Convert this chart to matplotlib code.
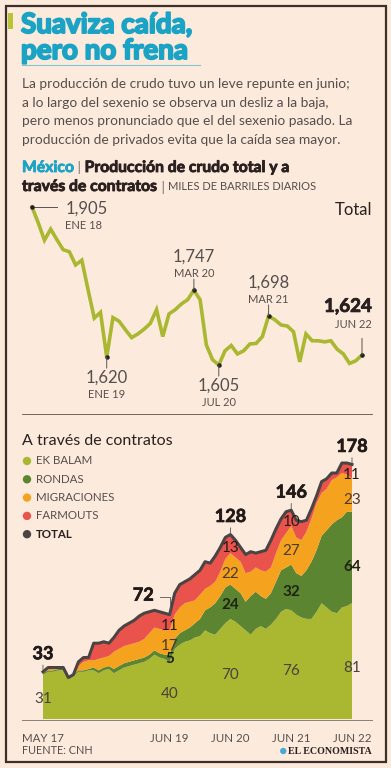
import numpy as np
import matplotlib.pyplot as plt
import matplotlib.patheffects as pe
from matplotlib.lines import Line2D
from matplotlib.patches import Rectangle, Ellipse

W, H = 391, 768

# Produccion total nacional, ene 2018 - jun 2022 (miles de barriles diarios)
total = [1905, 1875, 1842, 1863, 1843, 1824, 1820, 1795, 1804, 1748, 1694, 1705,
         1620, 1695, 1688, 1672, 1657, 1664, 1673, 1684, 1710, 1659, 1702, 1710,
         1721, 1729, 1747, 1729, 1643, 1615, 1605, 1632, 1642, 1626, 1632, 1645,
         1646, 1659, 1698, 1691, 1681, 1679, 1668, 1611, 1664, 1651, 1651, 1649,
         1651, 1635, 1626, 1608, 1613, 1624]
total_marcas = [0, 12, 26, 30, 38, 53]
total_fechas = ['ENE 18', 'ENE 19', 'MAR 20', 'JUL 20', 'MAR 21', 'JUN 22']

# Produccion a traves de contratos, may 2017 - jun 2022
ek_balam = [31, 33, 33, 34, 34, 28, 30, 33, 33, 34, 34, 32, 34, 35, 32, 34, 36, 37, 38, 39,
            40, 42, 45, 43, 42, 40, 49, 52, 54, 55, 57, 58, 62, 60, 59, 63, 67, 70, 68, 65,
            62, 59, 63, 65, 63, 66, 70, 75, 77, 76, 73, 71, 70, 70, 75, 81, 78, 75, 74, 78,
            79, 81]
rondas = [1, 1, 1, 1, 1, 1, 1, 1, 1, 1, 2, 2, 2, 2, 3, 3, 3, 3, 3, 3,
          3, 3, 3, 3, 3, 5, 7, 8, 8, 9, 10, 12, 14, 18, 22, 23, 25, 24, 23, 23,
          20, 27, 26, 21, 21, 22, 26, 29, 29, 32, 29, 29, 34, 40, 43, 47, 54, 61, 65, 63,
          66, 64]
migraciones = [0, 1, 1, 0, 0, 0, 0, 3, 6, 6, 5, 8, 7, 7, 12, 12, 12, 12, 12, 12,
               13, 15, 16, 17, 17, 17, 17, 18, 19, 18, 16, 17, 15, 15, 15, 17, 20, 22, 22, 22,
               20, 17, 17, 18, 19, 18, 20, 21, 24, 27, 25, 25, 27, 30, 33, 30, 29, 31, 30, 31,
               26, 23]
farmouts = [1, 1, 1, 1, 1, 0, 0, 3, 3, 2, 12, 11, 11, 9, 10, 13, 14, 15, 16, 18,
            18, 15, 12, 12, 12, 11, 15, 16, 15, 16, 18, 17, 19, 16, 18, 17, 15, 13, 12, 10,
            13, 14, 10, 13, 15, 19, 17, 15, 15, 11, 12, 13, 8, 7, 5, 8, 7, 5, 3, 7,
            8, 10]

hitos = [0, 25, 37, 49, 61]
hitos_fechas = ['MAY 17', 'JUN 19', 'JUN 20', 'JUN 21', 'JUN 22']
lab_total = [33, 72, 128, 146, 178]
lab_ek = [31, 40, 70, 76, 81]
lab_rondas = [None, 5, 24, 32, 64]
lab_migr = [None, 17, 22, 27, 23]
lab_farm = [None, 11, 13, 10, 11]

series_nombres = ['EK BALAM', 'RONDAS', 'MIGRACIONES', 'FARMOUTS', 'TOTAL']

BG = '#fcebdc'
OLIVA = '#a9b830'
VERDE = '#5b8530'
NARANJA = '#f5a21e'
ROJO = '#e9534c'
GRIS = '#4b4444'
TEXTO = '#564e4c'
OSCURO = '#2b2020'
CIAN = '#1ba3c6'

plt.rcParams['font.family'] = ['Lato', 'DejaVu Sans']


def fx(x):
    return x / W


def fy(y):
    return 1 - y / H


def punto(x, y, rad, color):
    fig.add_artist(Ellipse((fx(x), fy(y)), 2 * rad / W, 2 * rad / H, fc=color, ec='none',
                           transform=fig.transFigure))


fig = plt.figure(figsize=(W / 100, H / 100), dpi=100)
fig.patch.set_facecolor(BG)

# marco
fig.add_artist(Rectangle((fx(6), fy(762)), fx(380), 756 / H, fill=False,
                         ec='#3d302b', lw=1.6, transform=fig.transFigure))
fig.add_artist(Rectangle((fx(8), fy(29)), fx(5), 16 / H, fc='#b9c436', ec='none',
                         transform=fig.transFigure))

# titulo
grueso = [pe.withStroke(linewidth=1.4, foreground=CIAN)]
fig.text(fx(21), fy(25), 'Suaviza caída,', color=CIAN, fontsize=20, fontweight='bold',
         va='center', path_effects=grueso)
fig.text(fx(21), fy(51), 'pero no frena', color=CIAN, fontsize=20, fontweight='bold',
         va='center', path_effects=grueso)
fig.add_artist(Line2D([fx(22), fx(200)], [fy(65), fy(65)], color='#7fc6da', lw=0.8))

parrafo = ['La producción de crudo tuvo un leve repunte en junio;',
           'a lo largo del sexenio se observa un desliz a la baja,',
           'pero menos pronunciado que el del sexenio pasado. La',
           'producción de privados evita que la caída sea mayor.']
for k, linea in enumerate(parrafo):
    fig.text(fx(22), fy(84 + k * 18.7), linea, color=TEXTO, fontsize=9.9, va='center')

r = fig.canvas.get_renderer()


def piezas(x, y, partes):
    for s, kw in partes:
        t = fig.text(fx(x), fy(y), s, va='center', **kw)
        x += t.get_window_extent(r).width


negrita = lambda c: dict(color=c, fontsize=11.3, fontweight='bold',
                         path_effects=[pe.withStroke(linewidth=0.6, foreground=c)])
piezas(22, 168, [('México', negrita(CIAN)),
                 (' | ', dict(color='#777', fontsize=10)),
                 ('Producción de crudo total y a', negrita(OSCURO))])
piezas(22, 187, [('través de contratos', negrita(OSCURO)),
                 (' | ', dict(color='#777', fontsize=10)),
                 ('MILES DE BARRILES DIARIOS', dict(color=TEXTO, fontsize=8))])

# ---- grafica total ----
ax1 = fig.add_axes([fx(32), fy(365), 330 / W, 158 / H])
ax1.set_xlim(0, len(total) - 1)
ax1.set_ylim(1605, 1905)
ax1.axis('off')
ax1.plot(np.arange(len(total)), total, color=OLIVA, lw=2.6, clip_on=False,
         solid_joinstyle='miter')
mx = np.array(total_marcas)
my = np.array(total)[mx]
ax1.scatter(mx, my, s=5, color='#222', zorder=3, clip_on=False)

for k, (i, v) in enumerate(zip(mx, my)):
    f = total_fechas[k]
    num = f'{v:,}'
    if k == 0:
        ax1.plot([i, i + 4], [v, v], color='#555', lw=0.7, clip_on=False)
        ax1.annotate(num, (i, v), xytext=(24, -1), textcoords='offset points', ha='left',
                     va='center', fontsize=12, color=TEXTO)
        ax1.annotate(f, (i, v), xytext=(24, -13), textcoords='offset points', ha='left',
                     va='center', fontsize=8, color=TEXTO)
    elif k == len(mx) - 1:
        ax1.annotate('', (i, v), xytext=(0, 12), textcoords='offset points',
                     arrowprops=dict(arrowstyle='-', color='#555', lw=0.7, shrinkA=0, shrinkB=0))
        ax1.annotate(num, (i, v), xytext=(7, 35), textcoords='offset points', ha='right',
                     va='center', fontsize=13.5, color=OSCURO, fontweight='bold',
                     path_effects=[pe.withStroke(linewidth=0.6, foreground=OSCURO)])
        ax1.annotate(f, (i, v), xytext=(7, 22), textcoords='offset points', ha='right',
                     va='center', fontsize=8, color=TEXTO)
    else:
        arriba = k in (2, 4)
        sgn = 1 if arriba else -1
        ax1.annotate('', (i, v), xytext=(0, sgn * 8), textcoords='offset points',
                     arrowprops=dict(arrowstyle='-', color='#555', lw=0.7, shrinkA=0, shrinkB=0))
        if arriba:
            ax1.annotate(num, (i, v), xytext=(0, 24), textcoords='offset points', ha='center',
                         va='center', fontsize=12, color=TEXTO)
            ax1.annotate(f, (i, v), xytext=(0, 12), textcoords='offset points', ha='center',
                         va='center', fontsize=8, color=TEXTO)
        else:
            ax1.annotate(num, (i, v), xytext=(0, -15), textcoords='offset points', ha='center',
                         va='center', fontsize=12, color=TEXTO)
            ax1.annotate(f, (i, v), xytext=(0, -27), textcoords='offset points', ha='center',
                         va='center', fontsize=8, color=TEXTO)

fig.text(fx(372), fy(210), 'Total', ha='right', va='center', fontsize=12, color=OSCURO)
fig.add_artist(Line2D([fx(22), fx(372)], [fy(414), fy(414)], color='#5a4f4a', lw=0.6))

# ---- grafica contratos ----
ax2 = fig.add_axes([fx(43), fy(719), 309 / W, 257.4 / H])
n = len(ek_balam)
x = np.arange(n)
ax2.set_xlim(0, n - 1)
ax2.set_ylim(0, 180)
ax2.set_facecolor('none')
for s in ax2.spines.values():
    s.set_visible(False)
ax2.set_yticks([])
ax2.stackplot(x, ek_balam, rondas, migraciones, farmouts,
              colors=[OLIVA, VERDE, NARANJA, ROJO], lw=0)
suma = np.array(ek_balam) + np.array(rondas) + np.array(migraciones) + np.array(farmouts)
ax2.plot(x, suma, color=GRIS, lw=2.2, clip_on=False, solid_joinstyle='round')
ax2.set_xticks(hitos)
ax2.set_xticklabels(hitos_fechas)
ax2.tick_params(axis='x', length=0, pad=10, labelsize=8.3, labelcolor=TEXTO)
fig.add_artist(Line2D([fx(22), fx(372)], [fy(719.5), fy(719.5)], color='#8a807a', lw=0.7))

bold_num = [pe.withStroke(linewidth=0.5, foreground='#221a18')]
for k, i in enumerate(hitos):
    top = suma[i]
    if k == 1:
        ax2.plot([i - 2, i, i], [lab_total[k] + 13, lab_total[k] + 13, top], color='#555',
                 lw=0.6)
        ax2.annotate(str(lab_total[k]), (i, top), xytext=(-19, 14), textcoords='offset points',
                     ha='center', va='center', fontsize=13, fontweight='bold', color='#221a18',
                     path_effects=bold_num)
    else:
        ax2.annotate(str(lab_total[k]), (i, top), xytext=(0, 13), textcoords='offset points',
                     ha='center', va='center', fontsize=13, fontweight='bold', color='#221a18',
                     path_effects=bold_num,
                     arrowprops=dict(arrowstyle='-', color='#555', lw=0.6, shrinkA=6, shrinkB=1))
    ax2.text(i, lab_ek[k] * 0.44, str(lab_ek[k]), ha='center', va='center', fontsize=11,
             color='#4a4040')
    if lab_rondas[k] is not None:
        b = lab_ek[k]
        ax2.text(i, b + 0.4 * lab_rondas[k], str(lab_rondas[k]), ha='center', va='center',
                 fontsize=11, fontweight='bold', color='#1f2412')
        b += lab_rondas[k]
        ax2.text(i, b + 0.35 * lab_migr[k], str(lab_migr[k]), ha='center', va='center',
                 fontsize=11, color='#4a3a30')
        b += lab_migr[k]
        ax2.text(i, b + 0.25 * lab_farm[k], str(lab_farm[k]), ha='center', va='center',
                 fontsize=11, color='#2a1a18')

# leyenda
fig.text(fx(22), fy(441), 'A través de contratos', fontsize=11.5, color=OSCURO, va='center')
for k, (nom, c) in enumerate(zip(series_nombres, [OLIVA, VERDE, NARANJA, ROJO, GRIS])):
    yy = 461 + k * 18.3
    punto(27, yy, 4.2, c)
    fig.text(fx(36), fy(yy), nom, fontsize=8.3, va='center',
             color=OSCURO if nom == 'TOTAL' else TEXTO,
             fontweight='bold' if nom == 'TOTAL' else 'normal')

fig.text(fx(22), fy(751), 'FUENTE: CNH', fontsize=7.8, color=TEXTO, va='center')
logo = fig.text(fx(372), fy(751), 'EL ECONOMISTA', fontsize=7.2, color=OSCURO, va='center',
                ha='right', family='Liberation Serif', fontweight='bold')
x0 = logo.get_window_extent(r).x0
punto(x0 - 5, 751, 3.2, '#4aa8d8')

fig.savefig('out.png', dpi=100, facecolor=BG)
